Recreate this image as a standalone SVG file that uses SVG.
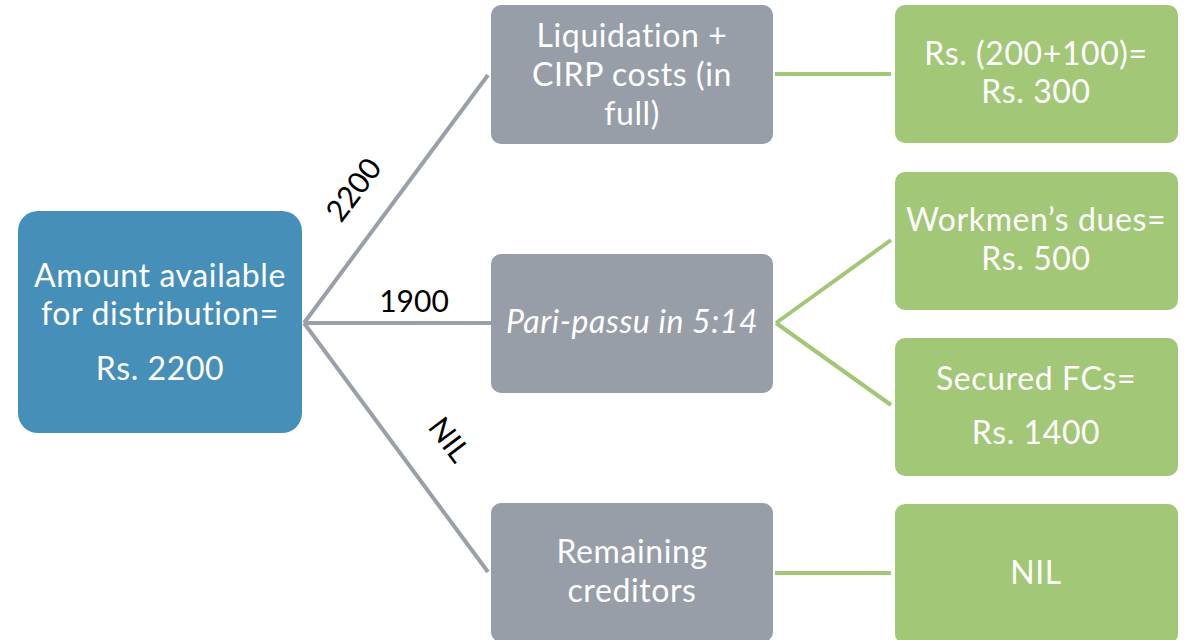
<svg xmlns="http://www.w3.org/2000/svg" width="1192" height="640" viewBox="0 0 1192 640">
  <style>
    .t { font-family: Lato, "Open Sans", "Liberation Sans", sans-serif; font-size: 32px; letter-spacing: 0.6px; fill: #ffffff; text-anchor: middle; }
    .lbl { font-family: Lato, "Open Sans", "Liberation Sans", sans-serif; font-size: 30px; fill: #000000; text-anchor: middle; }
    .blue { fill: #468fb9; }
    .gray { fill: #979ea7; }
    .green { fill: #a2c777; }
    .cg { stroke: #9aa0a8; stroke-width: 4; fill: none; }
    .cn { stroke: #a2c777; stroke-width: 4; fill: none; }
  </style>
  <rect width="1192" height="640" fill="#ffffff"/>

  <!-- connectors -->
  <g id="connectors">
    <line class="cg" x1="304" y1="323" x2="488" y2="75"/>
    <line class="cg" x1="304" y1="323" x2="491" y2="323"/>
    <line class="cg" x1="304" y1="323" x2="488" y2="572"/>
    <line class="cn" x1="775" y1="74" x2="891" y2="74"/>
    <line class="cn" x1="776" y1="323" x2="891" y2="240"/>
    <line class="cn" x1="776" y1="323" x2="891" y2="405"/>
    <line class="cn" x1="775" y1="573" x2="891" y2="573"/>
    <text class="lbl" transform="translate(362,196) rotate(-53)">2200</text>
    <text class="lbl" x="414" y="312">1900</text>
    <text class="lbl" transform="translate(441,446) rotate(53)">NIL</text>
  </g>

  <g id="source">
    <rect class="blue" x="18" y="211" width="284" height="222" rx="20"/>
    <text class="t" x="160" y="287">Amount available</text>
    <text class="t" x="160" y="325">for distribution=</text>
    <text class="t" x="160" y="380">Rs. 2200</text>
  </g>

  <g id="costs">
    <rect class="gray" x="491" y="5" width="282" height="139" rx="10"/>
    <text class="t" x="632" y="47">Liquidation +</text>
    <text class="t" x="632" y="86">CIRP costs (in</text>
    <text class="t" x="632" y="125">full)</text>
  </g>

  <g id="paripassu">
    <rect class="gray" x="491" y="254" width="282" height="139" rx="10"/>
    <text class="t" x="632" y="333" font-style="italic">Pari-passu in 5:14</text>
  </g>

  <g id="remaining">
    <rect class="gray" x="491" y="503" width="282" height="139" rx="10"/>
    <text class="t" x="632" y="563">Remaining</text>
    <text class="t" x="632" y="602">creditors</text>
  </g>

  <g id="costs-amount">
    <rect class="green" x="895" y="5" width="283" height="138" rx="10"/>
    <text class="t" x="1036" y="65">Rs. (200+100)=</text>
    <text class="t" x="1036" y="103">Rs. 300</text>
  </g>

  <g id="workmen">
    <rect class="green" x="895" y="172" width="283" height="138" rx="10"/>
    <text class="t" x="1036" y="231">Workmen’s dues=</text>
    <text class="t" x="1036" y="270">Rs. 500</text>
  </g>

  <g id="secured">
    <rect class="green" x="895" y="338" width="283" height="138" rx="10"/>
    <text class="t" x="1036" y="390">Secured FCs=</text>
    <text class="t" x="1036" y="444">Rs. 1400</text>
  </g>

  <g id="remaining-amount">
    <rect class="green" x="895" y="504" width="283" height="140" rx="10"/>
    <text class="t" x="1036" y="584">NIL</text>
  </g>
</svg>
